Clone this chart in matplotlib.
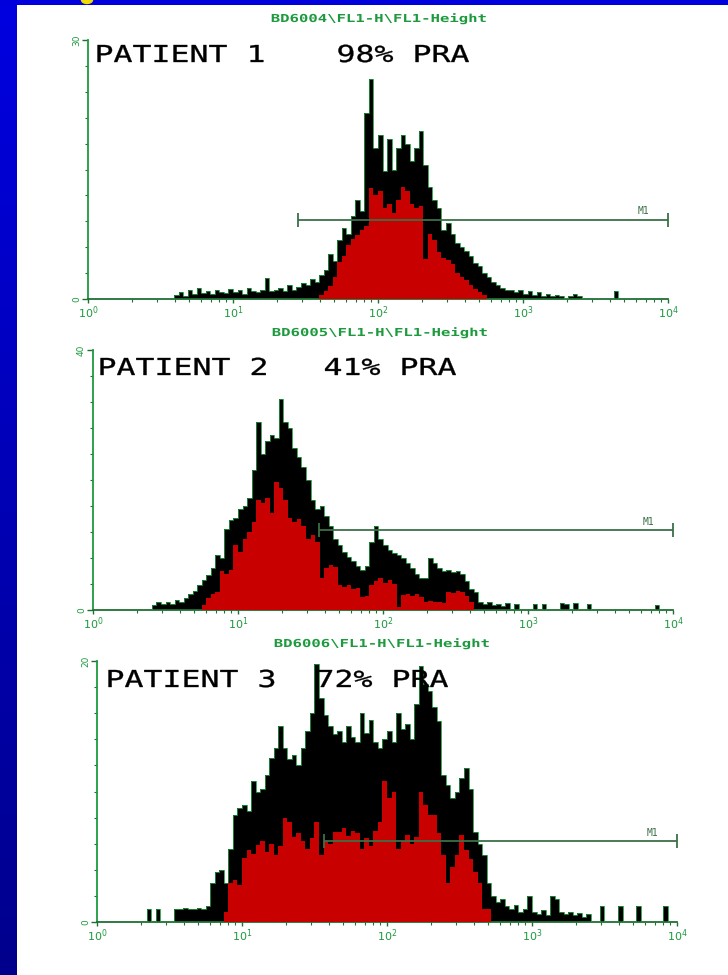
import numpy as np
import matplotlib
matplotlib.use("Agg")
import matplotlib.pyplot as plt
from matplotlib.patches import Ellipse, PathPatch
from matplotlib.textpath import TextPath
from matplotlib.font_manager import FontProperties
from matplotlib.transforms import Affine2D

W, H = 728, 975
CH_PER_DECADE = 32          # 4 decades -> 128 channels
N_CH = 4 * CH_PER_DECADE

# counts per channel; channel 0 starts at 10^0
P1_BLACK_START = 19
P1_BLACK = [0.5, 0.8, 0.4, 1.0, 0.6, 1.3, 0.7, 0.9, 0.6, 1.1,
            0.8, 0.7, 1.2, 0.8, 1.0, 0.6, 1.3, 0.9, 0.8, 1.1,
            2.4, 0.9, 1.0, 1.3, 0.9, 1.6, 1.1, 1.4, 1.9, 1.6,
            2.3, 2.0, 2.8, 3.4, 5.2, 4.4, 6.8, 8.2, 7.5, 9.6,
            11.5, 10.2, 21.5, 25.5, 17.5, 19.0, 14.8, 18.5, 15.0, 17.5,
            19.0, 18.0, 16.0, 17.5, 19.5, 15.5, 13.0, 11.5, 10.5, 8.0,
            8.8, 7.5, 6.5, 6.0, 5.6, 5.0, 4.2, 3.8, 3.0, 2.6,
            2.0, 1.6, 1.3, 1.1, 1.0, 0.8, 1.0, 0.6, 0.9, 0.5,
            0.8, 0.4, 0.6, 0.3, 0.5, 0.3, 0.0, 0.4, 0.6, 0.3,
            0, 0, 0, 0, 0, 0, 0, 0.9]
P1_RED_START = 51
P1_RED = [0.5, 0.9, 1.5, 2.5, 4.3, 5.0, 6.2, 7.0, 7.4, 8.0,
          8.5, 12.8, 12.0, 12.5, 10.5, 11.0, 10.0, 11.5, 13.0, 12.5,
          11.0, 10.5, 10.8, 4.6, 7.5, 6.8, 5.5, 4.8, 4.5, 4.0,
          3.0, 2.5, 2.2, 1.6, 1.2, 0.8, 0.5]

P2_BLACK_START = 13
P2_BLACK = [0.8, 1.2, 0.9, 1.3, 1.0, 1.5, 1.2, 1.8, 2.4, 3.0,
            3.8, 4.6, 5.4, 6.4, 8.5, 8.0, 12.5, 13.8, 14.2, 15.5,
            16.0, 17.2, 21.5, 29.0, 24.0, 26.0, 27.0, 26.5, 32.5, 29.0,
            28.0, 25.0, 23.5, 22.0, 20.0, 17.0, 15.5, 16.0, 14.5, 13.0,
            11.0, 10.0, 9.0, 8.2, 7.5, 6.8, 6.2, 6.8, 10.5, 13.0,
            11.0, 10.0, 9.2, 8.8, 8.5, 8.0, 7.2, 6.4, 5.5, 5.0,
            4.9, 8.0, 7.2, 6.5, 6.0, 6.2, 5.8, 6.0, 5.5, 4.5,
            3.3, 2.8, 1.3, 1.0, 1.2, 0.8, 0.9, 0.6, 1.1, 0,
            1.0, 0, 0, 0, 1.0, 0, 1.0, 0, 0, 0,
            1.1, 1.0, 0, 1.1, 0, 0, 1.0, 0, 0, 0,
            0, 0, 0, 0, 0, 0, 0, 0, 0, 0,
            0, 0.8]
P2_RED_START = 24
P2_RED = [0.8, 1.8, 2.4, 2.8, 6.0, 5.6, 6.2, 10.0, 9.0, 11.0,
          12.0, 13.6, 17.0, 16.5, 17.2, 15.0, 19.7, 18.7, 17.0, 14.2,
          13.5, 14.0, 13.0, 11.0, 11.5, 10.5, 4.9, 6.4, 7.0, 6.6,
          3.8, 3.5, 3.8, 3.3, 3.4, 2.0, 2.2, 3.8, 4.5, 4.9,
          4.2, 4.6, 4.0, 0.5, 2.3, 2.5, 2.2, 2.4, 2.0, 1.3,
          1.4, 1.2, 1.3, 1.1, 2.8, 2.6, 3.0, 2.8, 2.2, 1.3]

P3_BLACK_START = 11
P3_BLACK = [1.0, 0, 1.0, 0, 0, 0, 1.0, 1.0, 1.1, 1.0,
            1.0, 1.1, 1.0, 1.2, 3.0, 3.8, 4.0, 3.0, 5.6, 8.2,
            8.7, 9.0, 8.5, 10.8, 10.0, 10.2, 11.3, 12.6, 13.3, 15.0,
            13.3, 12.5, 12.8, 12.0, 13.3, 14.6, 16.0, 19.8, 17.2, 15.9,
            15.0, 14.4, 14.6, 13.8, 15.0, 14.2, 13.8, 16.0, 14.5, 15.5,
            13.8, 13.3, 14.0, 14.6, 13.8, 16.0, 14.8, 15.2, 14.0, 16.7,
            19.6, 18.2, 17.7, 16.5, 15.4, 11.3, 10.5, 9.5, 10.0, 11.0,
            11.8, 10.2, 6.9, 6.0, 5.1, 3.0, 2.0, 1.5, 1.8, 1.2,
            1.0, 1.3, 0.8, 1.0, 2.0, 0.8, 0.6, 0.9, 0.5, 2.0,
            1.8, 0.8, 0.6, 0.8, 0.5, 0.7, 0.4, 0.6, 0, 0,
            1.2, 0, 0, 0, 1.2, 0, 0, 0, 1.2, 0,
            0, 0, 0, 0, 1.2]
P3_RED_START = 28
P3_RED = [0.8, 3.0, 3.2, 2.8, 4.9, 5.5, 5.2, 5.9, 6.2, 5.4,
          6.0, 5.1, 5.8, 8.0, 7.7, 6.5, 6.8, 6.2, 5.6, 6.4,
          7.7, 5.1, 6.2, 6.0, 6.9, 6.9, 7.2, 6.6, 7.0, 6.8,
          5.6, 6.4, 5.8, 7.0, 7.7, 10.8, 9.5, 10.0, 5.6, 6.2,
          6.7, 6.0, 6.5, 10.0, 9.0, 8.2, 8.2, 6.8, 5.1, 3.0,
          4.2, 5.1, 6.7, 5.5, 4.8, 3.8, 3.0, 1.0, 1.0]

Y_MAX = [30, 40, 20]
TITLES = ["BD6004\\FL1-H\\FL1-Height", "BD6005\\FL1-H\\FL1-Height",
          "BD6006\\FL1-H\\FL1-Height"]
PATIENTS = ["PATIENT 1", "PATIENT 2", "PATIENT 3"]
PRA = ["98% PRA", "41% PRA", "72% PRA"]
M1_Y = [9.2, 12.3, 6.2]
M1_LO = [28, 36, 37]
M1_HI = 1e4

GREEN = "#1d9a3e"
DKGREEN = "#3b7048"
RED = "#c80000"

# layout in pixels: left, right, top, bottom of each plot box
BOXES = [(88, 668, 40, 299), (93, 673, 350, 610), (97, 677, 661, 922)]
TITLE_POS = [(272, 22), (273, 336), (275, 647)]
PAT_POS = [(97, 339, 62), (100, 326, 375), (108, 318, 687)]

MONO = FontProperties(family="DejaVu Sans Mono")
MONO_B = FontProperties(family="DejaVu Sans Mono", weight="bold")


def full(start, vals):
    a = np.zeros(N_CH)
    a[start:start + len(vals)] = vals
    return a


def plotter_text(ov, x0, ybase, s, cap_px, pitch, prop, color, stroke=0.0):
    # wide plotter-style lettering: mono glyphs stretched to the cell pitch
    em = cap_px / 0.729
    tp = TextPath((0, 0), s, size=em, prop=prop)
    sx = pitch / (0.602 * em)
    tr = Affine2D().scale(sx, -1).translate(x0 - 0.08 * em * sx, ybase)
    ov.add_patch(PathPatch(tr.transform_path(tp), facecolor=color,
                           edgecolor=color if stroke else "none",
                           lw=stroke))


blacks = [full(P1_BLACK_START, P1_BLACK), full(P2_BLACK_START, P2_BLACK),
          full(P3_BLACK_START, P3_BLACK)]
reds = [full(P1_RED_START, P1_RED), full(P2_RED_START, P2_RED),
        full(P3_RED_START, P3_RED)]
edges = 10 ** (np.arange(N_CH + 1) / CH_PER_DECADE)

fig = plt.figure(figsize=(W / 100, H / 100), dpi=100, facecolor="white")

# blue slide frame (left strip gradient + thin top band)
bg = fig.add_axes([0, 0, 17 / W, 1])
grad = np.linspace(0, 1, 200)
cols = np.zeros((200, 1, 3))
cols[:, 0, 2] = 0.88 - 0.33 * grad
bg.imshow(cols, aspect="auto", extent=(0, 1, 0, 1))
bg.axis("off")
top = fig.add_axes([0, 1 - 5 / H, 1, 5 / H])
top.set_facecolor("#0000dc")
top.set_xticks([]); top.set_yticks([])
for s in top.spines.values():
    s.set_visible(False)
fig.add_artist(Ellipse((87 / W, 1), 11 / W, 7 / H, color="#f0dc00",
                       transform=fig.transFigure, zorder=10))

for k in range(3):
    l, r, t, b = BOXES[k]
    ymax = Y_MAX[k]
    ax = fig.add_axes([l / W, 1 - b / H, (r - l) / W, (b - t) / H])
    ax.set_xscale("log")
    ax.set_xlim(1, 1e4)
    ax.set_ylim(0, ymax)

    ax.stairs(blacks[k], edges, fill=True, color="black", zorder=2)
    ax.stairs(blacks[k], edges, color=GREEN, lw=0.6, zorder=3)
    ax.stairs(reds[k], edges, fill=True, color=RED, zorder=4)

    # M1 marker
    d = 0.027 * ymax
    ax.hlines(M1_Y[k], M1_LO[k], M1_HI, color=DKGREEN, lw=1.3, zorder=5,
              clip_on=False)
    ax.vlines([M1_LO[k], M1_HI], M1_Y[k] - d, M1_Y[k] + d, color=DKGREEN,
              lw=1.3, zorder=5, clip_on=False)
    ax.text(10 ** 3.83, M1_Y[k] + 0.012 * ymax, "M1", fontsize=7,
            family="DejaVu Sans Mono", color=DKGREEN, ha="center",
            va="bottom", zorder=6)

    for side in ("top", "right"):
        ax.spines[side].set_visible(False)
    ax.spines["left"].set_color(GREEN)
    ax.spines["bottom"].set_color("#1f6f33")
    ax.spines["left"].set_linewidth(1.3)
    ax.spines["bottom"].set_linewidth(1.3)
    ax.set_facecolor("none")

    ax.set_xticks([1, 10, 100, 1000, 10000])
    ax.set_xticklabels([r"$10^{%d}$" % e for e in range(5)])
    ax.tick_params(axis="x", which="major", length=3, width=1,
                   color="#1f6f33", labelsize=8, labelcolor=GREEN, pad=1)
    ax.tick_params(axis="x", which="minor", length=2, width=0.8,
                   color="#1f6f33")
    ax.set_yticks([0, ymax])
    ax.set_yticklabels(["0", str(ymax)], rotation=90, va="center")
    ax.set_yticks(np.linspace(0, ymax, 11), minor=True)
    ax.tick_params(axis="y", which="major", length=4, width=1,
                   color="#1f6f33", labelsize=6.5, labelcolor=GREEN, pad=1)
    ax.tick_params(axis="y", which="minor", length=2.5, width=0.8,
                   color="#1f6f33")

# lettering overlay in pixel coordinates
ov = fig.add_axes([0, 0, 1, 1], zorder=20)
ov.set_xlim(0, W)
ov.set_ylim(H, 0)
ov.axis("off")
for k in range(3):
    tx, ty = TITLE_POS[k]
    plotter_text(ov, tx, ty, TITLES[k], 8, 9.4, MONO_B, GREEN)
    px, qx, py = PAT_POS[k]
    plotter_text(ov, px, py, PATIENTS[k], 17, 19, MONO, "black", stroke=0.25)
    plotter_text(ov, qx, py, PRA[k], 17, 19, MONO, "black", stroke=0.25)

fig.savefig("out.png", dpi=100, facecolor="white")
